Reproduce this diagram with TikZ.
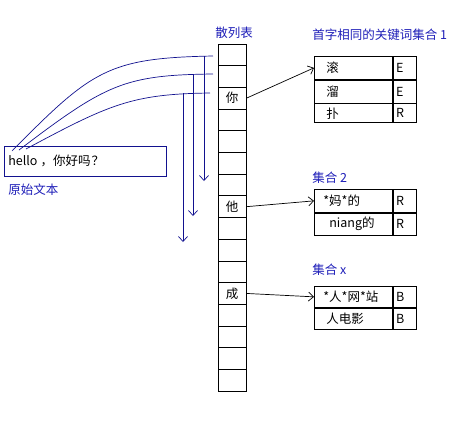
\documentclass[tikz,border=0pt]{standalone}
\usepackage{fontspec}
\setmainfont{Noto Sans CJK SC}
\usepackage{tikz}
\usetikzlibrary{arrows.meta,calc}
\definecolor{cizgiMavi}{HTML}{12128F}
\definecolor{yaziMavi}{HTML}{1E1EB8}

\begin{document}
\begin{tikzpicture}[x=1pt, y=-1pt, line width=0.7pt,
  every node/.style={font=\fontsize{12.5}{15}\selectfont},
  ok/.style={-{Straight Barb[length=5pt,width=9pt]}},
  hucre/.style={draw,minimum width=28pt,minimum height=21.69pt,inner sep=0pt},
  anahtar/.style={draw,anchor=north west,text width=60pt,inner xsep=9pt,inner ysep=0pt,align=left},
  bayrak/.style={draw,anchor=north west,text width=17pt,inner xsep=3pt,inner ysep=0pt,align=left},
  baslik/.style={text=yaziMavi,inner sep=0pt,anchor=west}]
\useasboundingbox (0,0) rectangle (464,421);
% hash table
\node[baslik,anchor=center] (tablo) at (234,33) {散列表};
\foreach \t [count=\i from 0] in {{},{},你,{},{},{},{},他,{},{},{},成,{},{},{},{}}
  \node[hucre] (h\i) at (232,{44+21.69*(\i+0.5)}) {\t};
% source text
\node[draw=cizgiMavi,anchor=north west,minimum height=30pt,text width=154pt,inner xsep=4pt,align=left] (kaynak) at (4,146) {hello\hspace{3pt}，你好吗\hspace{1pt}？};
\node[baslik] (kaynakAd) at (8,190) {原始文本};
\coordinate (s1) at (12,151); \coordinate (s2) at (19,150); \coordinate (s3) at (26,149);
\coordinate (e1) at (213,56); \coordinate (e2) at (213,74); \coordinate (e3) at (210,93);
\coordinate (d1) at (204,56); \coordinate (d2) at (193,74); \coordinate (d3) at (183,93);
\coordinate (u1) at (204,181); \coordinate (u2) at (193,216); \coordinate (u3) at (183,242);
\draw[cizgiMavi] (s1) .. controls (92,70) and (108,58) .. (e1);
\draw[cizgiMavi] (s2) .. controls (106,84) and (124,75) .. (e2);
\draw[cizgiMavi] (s3) .. controls (110,104) and (132,94) .. (e3);
\draw[cizgiMavi,ok] (d1)--(u1); \draw[cizgiMavi,ok] (d2)--(u2); \draw[cizgiMavi,ok] (d3)--(u3);
% set 1
\node[baslik] (t1) at (312,35) {首字相同的关键词集合 1};
\node[anahtar,minimum height=23pt] (k11) at (314,56) {\hspace*{3pt}滚};
\node[bayrak,minimum height=23pt] (b11) at (k11.north east) {E};
\node[anahtar,minimum height=23pt] (k12) at (k11.south west) {\hspace*{3pt}溜};
\node[bayrak,minimum height=23pt] (b12) at (k12.north east) {E};
\node[anahtar,minimum height=19pt] (k13) at (k12.south west) {\hspace*{3pt}扑};
\node[bayrak,minimum height=19pt] (b13) at (k13.north east) {R};
\draw[ok] (h2.east)--(k11.west);
% set 2
\node[baslik] (t2) at (312,178) {集合 2};
\node[anahtar,minimum height=23pt] (k21) at (314,189) {*妈*的};
\node[bayrak,minimum height=23pt] (b21) at (k21.north east) {R};
\node[anahtar,minimum height=22pt] (k22) at (k21.south west) {\hspace*{6pt}niang的};
\node[bayrak,minimum height=22pt] (b22) at (k22.north east) {R};
\draw[ok] (h7.east)--(k21.west);
% set x
\node[baslik] (t3) at (312,270) {集合 x};
\node[anahtar,minimum height=21pt] (k31) at (314,286) {*人*网*站};
\node[bayrak,minimum height=21pt] (b31) at (k31.north east) {B};
\node[anahtar,minimum height=21pt] (k32) at (k31.south west) {\hspace*{3pt}人电影};
\node[bayrak,minimum height=21pt] (b32) at (k32.north east) {B};
\draw[ok] (h11.east)--(k31.west);
\end{tikzpicture}
\end{document}
